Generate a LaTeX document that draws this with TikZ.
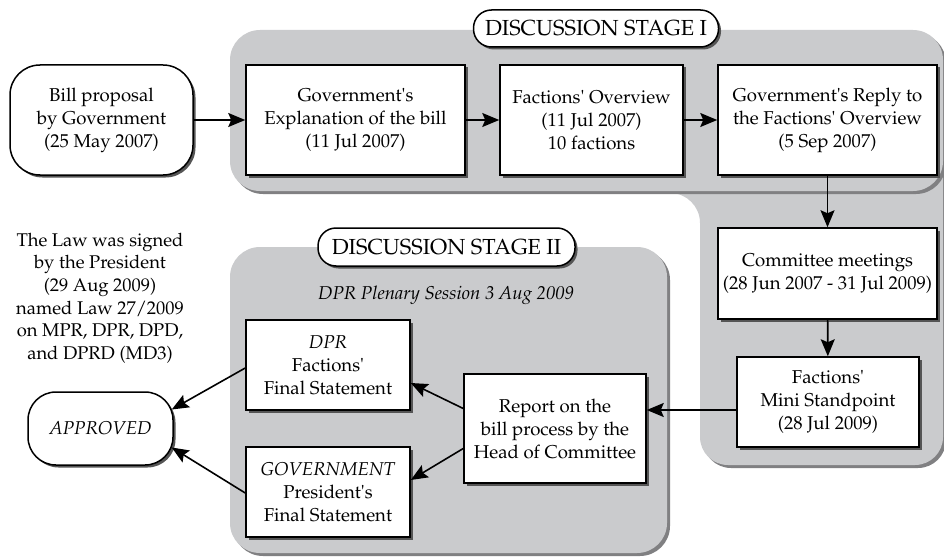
\documentclass[tikz,border=0pt]{standalone}
\usepackage[T1]{fontenc}
\renewcommand{\rmdefault}{ppl}
\usetikzlibrary{shadows,arrows.meta}
\definecolor{panel}{RGB}{202,203,205}
\definecolor{panelshadow}{RGB}{128,128,130}
\definecolor{boxshadow}{RGB}{85,85,85}
\newcommand{\apos}{\textquotesingle}
\begin{document}
\begin{tikzpicture}[x=1pt,y=-1pt,
  panelfill/.style={fill=panel,
    drop shadow={shadow xshift=3pt, shadow yshift=-3pt, fill=panelshadow, opacity=1}},
  boxshade/.style={drop shadow={shadow xshift=2.5pt, shadow yshift=-2.5pt, fill=boxshadow, opacity=1}},
  stepbox/.style={draw, line width=1.5pt, fill=white, align=center, inner sep=0pt,
    font=\fontsize{18.6}{23}\selectfont, boxshade},
  stagelabel/.style={draw, line width=1.5pt, fill=white, rounded corners=18pt,
    inner sep=0pt, font=\fontsize{21.8}{24}\selectfont, boxshade},
  arr/.style={line width=1.6pt, -{Stealth[length=17pt,width=14pt,inset=3pt]}}
]
\useasboundingbox (0,0) rectangle (944,559);

% grey panels: committee column, fillet, stage I band, stage II block
\path[panelfill, rounded corners=28pt] (700,150) rectangle (943,465);
\fill[panel] (670,185) -- (700,185) -- (700,223)
  .. controls (700,206.4) and (686.6,193) .. (670,193) -- cycle;
\path[panelfill, rounded corners=30pt] (230,30) rectangle (943,191);
\path[panelfill, rounded corners=30pt] (230,247) rectangle (667,553);

% stage labels
\node[stagelabel, minimum width=245pt, minimum height=37pt] (st1) at (596,28.5) {DISCUSSION STAGE I};
\node[stagelabel, minimum width=257pt, minimum height=38pt] (st2) at (446.5,247) {DISCUSSION STAGE II};

% stage I steps
\node[stepbox, rounded corners=30pt, minimum width=183pt, minimum height=110pt] (bill) at (101.5,120)
  {Bill proposal\\by Government\\(25 May 2007)};
\node[stepbox, minimum width=219pt, minimum height=110pt] (expl) at (355.5,120)
  {Government\apos s\\Explanation of the bill\\(11 Jul 2007)};
\node[stepbox, minimum width=183pt, minimum height=110pt] (over) at (591.5,120)
  {Factions\apos\ Overview\\(11 Jul 2007)\\10 factions};
\node[stepbox, minimum width=219pt, minimum height=110pt] (reply) at (827.5,120)
  {Government\apos s Reply to\\the Factions\apos\ Overview\\(5 Sep 2007)};
\node[stepbox, minimum width=219pt, minimum height=91pt] (comm) at (827.5,273.5)
  {Committee meetings\\(28 Jun 2007 - 31 Jul 2009)};
\node[stepbox, minimum width=182pt, minimum height=90pt] (mini) at (828,402)
  {Factions\apos\\Mini Standpoint\\(28 Jul 2009)};

% stage II steps
\node[font=\fontsize{18.6}{23}\selectfont\itshape] (plen) at (446,295) {DPR Plenary Session 3 Aug 2009};
\node[stepbox, minimum width=182pt, minimum height=109pt] (report) at (555,428.5)
  {Report on the\\bill process by the\\Head of Committee};
\node[stepbox, minimum width=164pt, minimum height=90pt] (dpr) at (328,365)
  {\textit{DPR}\\Factions\apos\\Final Statement};
\node[stepbox, minimum width=164pt, minimum height=90pt] (gov) at (328,492)
  {\textit{GOVERNMENT}\\President\apos s\\Final Statement};

% outcome
\node[stepbox, rounded corners=28pt, minimum width=145pt, minimum height=73pt] (appr) at (100.5,428.5)
  {\textit{APPROVED}};
\node[align=center, font=\fontsize{18.4}{22.6}\selectfont] (law) at (100,298)
  {The Law was signed\\by the President\\(29 Aug 2009)\\named Law 27/2009\\on MPR, DPR, DPD,\\and DPRD (MD3)};

% connectors
\draw[arr] (bill) -- (expl);
\draw[arr] (expl) -- (over);
\draw[arr] (over) -- (reply);
\draw[arr] (reply) -- (comm);
\draw[arr] (comm) -- (mini);
\draw[arr] ([yshift=-8pt]mini.west) coordinate (m1) -- (m1 -| report.east);
\draw[arr] ([yshift=20pt]report.west) -- ([yshift=-18pt]dpr.east);
\draw[arr] ([yshift=-20pt]report.west) -- ([yshift=12pt]gov.east);
\draw[arr] ([yshift=-3pt]dpr.west) -- ([xshift=-2pt,yshift=19pt]appr.east);
\draw[arr] ([yshift=-1pt]gov.west) -- ([xshift=-2pt,yshift=-19pt]appr.east);
\end{tikzpicture}
\end{document}
